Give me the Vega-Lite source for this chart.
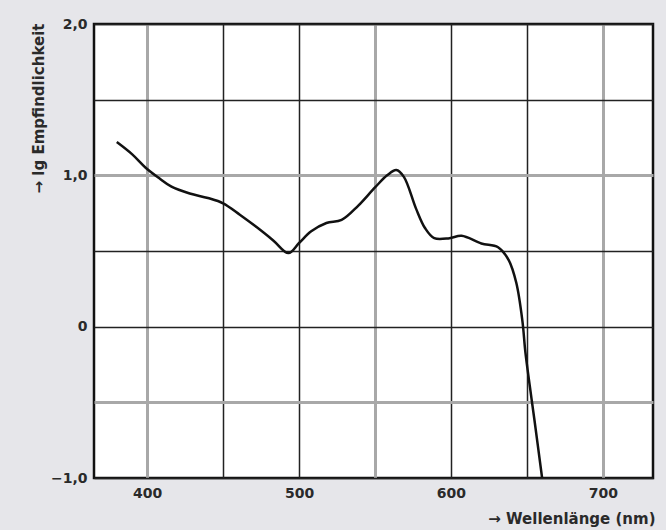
{
  "$schema": "https://vega.github.io/schema/vega-lite/v6.json",
  "autosize": {"type": "none"},
  "width": 559,
  "height": 454,
  "padding": {"left": 94, "top": 24, "right": 13, "bottom": 52},
  "background": "#e6e6ea",
  "config": {
    "view": {"fill": "white", "stroke": "#111111", "strokeWidth": 2.5},
    "axis": {"labelFont": "DejaVu Sans", "labelFontWeight": "bold", "labelColor": "#2a2a2a", "titleFont": "DejaVu Sans", "titleFontWeight": "bold", "titleColor": "#2a2a2a"}
  },
  "data": {
    "values": [
      {"nm": 380, "v": 1.22},
      {"nm": 390, "v": 1.14},
      {"nm": 399, "v": 1.05},
      {"nm": 408, "v": 0.98},
      {"nm": 416, "v": 0.925},
      {"nm": 428, "v": 0.88},
      {"nm": 440, "v": 0.85},
      {"nm": 450, "v": 0.815},
      {"nm": 461, "v": 0.74},
      {"nm": 472, "v": 0.658},
      {"nm": 483, "v": 0.57},
      {"nm": 493, "v": 0.486},
      {"nm": 500, "v": 0.553},
      {"nm": 508, "v": 0.63},
      {"nm": 518, "v": 0.685},
      {"nm": 528, "v": 0.705},
      {"nm": 539, "v": 0.8},
      {"nm": 550, "v": 0.92},
      {"nm": 558, "v": 1.0},
      {"nm": 564, "v": 1.035},
      {"nm": 569, "v": 0.99},
      {"nm": 577, "v": 0.78},
      {"nm": 583, "v": 0.65},
      {"nm": 589, "v": 0.585},
      {"nm": 599, "v": 0.585},
      {"nm": 607, "v": 0.6},
      {"nm": 620, "v": 0.55},
      {"nm": 631, "v": 0.525},
      {"nm": 638, "v": 0.44},
      {"nm": 643, "v": 0.29},
      {"nm": 647, "v": 0.04},
      {"nm": 649, "v": -0.17},
      {"nm": 652, "v": -0.4},
      {"nm": 655, "v": -0.62},
      {"nm": 660, "v": -1.0}
    ]
  },
  "mark": {"type": "line", "interpolate": "catmull-rom", "color": "#111111", "strokeWidth": 2.5, "clip": true},
  "encoding": {
    "x": {
      "field": "nm", "type": "quantitative",
      "scale": {"domain": [365, 733], "nice": false, "zero": false},
      "axis": {
        "values": [400, 450, 500, 550, 600, 650, 700],
        "labelExpr": "datum.value % 100 == 0 ? datum.label : ''",
        "grid": true,
        "gridColor": {"condition": {"test": "datum.value == 400 || datum.value == 550 || datum.value == 700", "value": "#a8a8a8"}, "value": "#222222"},
        "gridWidth": {"condition": {"test": "datum.value == 400 || datum.value == 550 || datum.value == 700", "value": 3}, "value": 1.5},
        "domain": false, "ticks": false,
        "labelFontSize": 14, "labelPadding": 8,
        "title": "→ Wellenlänge (nm)",
        "titleFontSize": 15,
        "titleAnchor": "end", "titleAlign": "right",
        "titleX": 561, "titleY": 40, "titleBaseline": "middle"
      }
    },
    "y": {
      "field": "v", "type": "quantitative",
      "scale": {"domain": [-1, 2], "nice": false, "zero": false},
      "axis": {
        "values": [-1, -0.5, 0, 0.5, 1, 1.5, 2],
        "labelExpr": "datum.value == 0 ? '0' : (datum.value % 1 == 0 ? replace(format(datum.value, '.1f'), '.', ',') : '')",
        "grid": true,
        "gridColor": {"condition": {"test": "datum.value == 1 || datum.value == -0.5", "value": "#a8a8a8"}, "value": "#222222"},
        "gridWidth": {"condition": {"test": "datum.value == 1 || datum.value == -0.5", "value": 3}, "value": 1.5},
        "domain": false, "ticks": false,
        "labelFontSize": 14, "labelPadding": 7,
        "title": "→ lg Empfindlichkeit",
        "titleFontSize": 15,
        "titleAnchor": "end",
        "titleX": -56, "titleY": -1, "titleAlign": "right", "titleAngle": -90, "titleBaseline": "middle"
      }
    }
  }
}
